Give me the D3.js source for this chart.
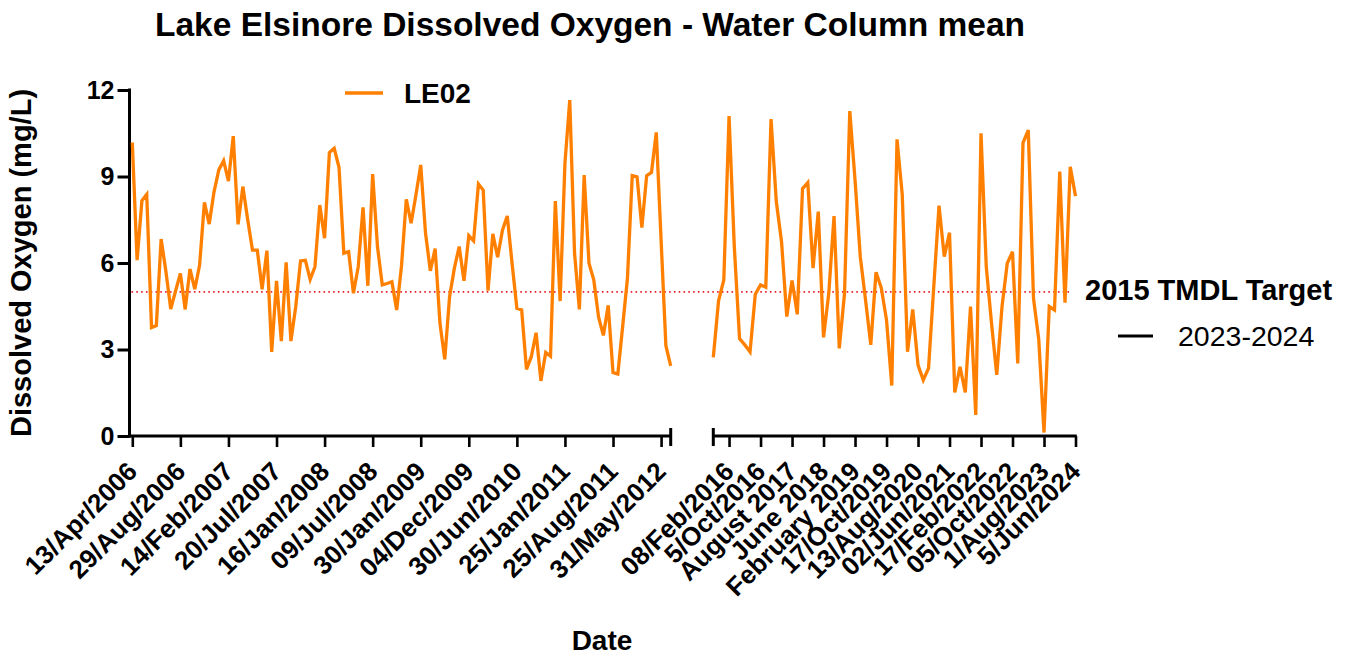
<!DOCTYPE html>
<html>
<head>
<meta charset="utf-8">
<script src="https://cdn.jsdelivr.net/npm/d3@7/dist/d3.min.js"></script>
<style>
  html, body { margin: 0; padding: 0; background: #fff; }
  svg { display: block; font-family: "Liberation Sans", Arial, Helvetica, sans-serif; }
</style>
</head>
<body>
<svg id="chart" width="1350" height="656"></svg>
<script>
// Dissolved oxygen, water-column mean at LE02 (mg/L), sampling order
const period1Values = [
  10.18, 6.10, 8.16, 8.38, 3.76, 3.83, 6.83, 5.70, 4.40, 5.03,
  5.64, 4.39, 5.79, 5.09, 5.93, 8.10, 7.35, 8.47, 9.23, 9.55,
  8.84, 10.40, 7.34, 8.65, 7.51, 6.45, 6.45, 5.09, 6.43, 2.92,
  5.38, 3.29, 6.02, 3.29, 4.49, 6.07, 6.09, 5.43, 5.87, 8.01,
  6.86, 9.83, 9.98, 9.32, 6.34, 6.39, 4.95, 5.87, 7.93, 5.21,
  9.08, 6.57, 5.24, 5.29, 5.35, 4.37, 5.90, 8.21, 7.38, 8.36,
  9.40, 7.03, 5.73, 6.50, 3.91, 2.66, 4.83, 5.82, 6.57, 5.38,
  6.95, 6.77, 8.74, 8.53, 5.04, 7.01, 6.20, 7.14, 7.63, 5.99,
  4.43, 4.37, 2.31, 2.75, 3.58, 1.91, 2.90, 2.77, 8.15, 4.68,
  9.46, 11.65, 6.34, 4.39, 9.05, 5.99, 5.41, 4.12, 3.49, 4.53,
  2.20, 2.15, 3.79, 5.47, 9.03, 8.99, 7.23, 9.03, 9.14, 10.53,
  6.80, 3.13, 2.43
];
const period2Values = [
  2.73, 4.69, 5.41, 11.10, 6.57, 3.38, 3.16, 2.92, 4.92, 5.24,
  5.16, 10.99, 8.13, 6.74, 4.14, 5.39, 4.22, 8.58, 8.79, 5.82,
  7.78, 3.42, 4.95, 7.63, 3.04, 4.95, 11.27, 8.88, 6.22, 4.72,
  3.16, 5.68, 5.14, 4.02, 1.75, 10.29, 8.36, 2.92, 4.39, 2.46,
  1.94, 2.35, 5.18, 7.99, 6.22, 7.05, 1.51, 2.40, 1.51, 4.49,
  0.73, 10.50, 5.87, 3.91, 2.12, 4.49, 5.99, 6.39, 2.52, 10.17,
  10.61, 4.77, 3.35, 0.12, 4.49, 4.37, 9.17, 4.62, 9.34, 8.32
];

// Date labels placed at sample positions along each period
const period1TickIndex = [0, 10, 20, 30, 40, 50, 60, 70, 80, 90, 100, 110];
const period1TickLabels = [
  "13/Apr/2006", "29/Aug/2006", "14/Feb/2007", "20/Jul/2007",
  "16/Jan/2008", "09/Jul/2008", "30/Jan/2009", "04/Dec/2009",
  "30/Jun/2010", "25/Jan/2011", "25/Aug/2011", "31/May/2012"
];
const period2TickIndex = [3, 9, 15, 21, 27, 33, 39, 45, 51, 57, 63, 69];
const period2TickLabels = [
  "08/Feb/2016", "5/Oct/2016", "August 2017", "June 2018",
  "February 2019", "17/Oct/2019", "13/Aug/2020", "02/Jun/2021",
  "17/Feb/2022", "05/Oct/2022", "1/Aug/2023", "5/Jun/2024"
];

const yTicks = [0, 3, 6, 9, 12];
const tmdlTarget = 5;

const seriesName = "LE02";
const chartTitle = "Lake Elsinore Dissolved Oxygen - Water Column mean";
const yTitle = "Dissolved Oxygen (mg/L)";
const xTitle = "Date";
const legendTitle = "2015 TMDL Target";
const legendEntry = "2023-2024";

const ORANGE = "#ff8000";
const svg = d3.select("#chart");

const y = d3.scaleLinear().domain([0, 12]).range([436, 90]);
const x1 = d3.scaleLinear().domain([0, period1Values.length - 1]).range([132.3, 670.7]);
const x2 = d3.scaleLinear().domain([0, period2Values.length - 1]).range([713.3, 1075.5]);

const yAxisX = 129.5;

// Title
svg.append("text")
  .attr("x", 590).attr("y", 36)
  .attr("text-anchor", "middle")
  .attr("font-size", 33.5).attr("font-weight", "bold")
  .text(chartTitle);

// TMDL target reference line
svg.append("line")
  .attr("x1", yAxisX + 2).attr("x2", 1072)
  .attr("y1", y(tmdlTarget)).attr("y2", y(tmdlTarget))
  .attr("stroke", "#e8202a").attr("stroke-width", 1.6)
  .attr("stroke-dasharray", "1.6 3.2");

// Y axis
const yAxis = svg.append("g")
  .attr("transform", `translate(${yAxisX},0)`)
  .call(d3.axisLeft(y).tickValues(yTicks).tickSize(12).tickSizeOuter(0).tickPadding(3));
yAxis.select(".domain").remove();
yAxis.selectAll(".tick line").attr("stroke", "#000").attr("stroke-width", 3);
yAxis.selectAll(".tick text")
  .attr("font-size", 25).attr("font-weight", "bold").attr("fill", "#000")
  .attr("font-family", "Liberation Sans, Arial, sans-serif");
svg.append("line")
  .attr("x1", yAxisX).attr("x2", yAxisX)
  .attr("y1", y(12) - 1.5).attr("y2", y(0) + 1.5)
  .attr("stroke", "#000").attr("stroke-width", 3);

// X axes, one per sampling period
function drawXAxis(scale, tickIdx, tickLabels, lineStart, lineEnd, capStart, capEnd) {
  const g = svg.append("g")
    .attr("transform", `translate(0,${y(0)})`)
    .call(d3.axisBottom(scale)
      .tickValues(tickIdx)
      .tickFormat((d, i) => tickLabels[i])
      .tickSize(11).tickSizeOuter(0));
  g.select(".domain").remove();
  g.selectAll(".tick line").attr("stroke", "#000").attr("stroke-width", 2.6);
  g.selectAll(".tick text")
    .attr("font-size", 26).attr("font-weight", "bold").attr("fill", "#000")
    .attr("font-family", "Liberation Sans, Arial, sans-serif")
    .attr("text-anchor", "end")
    .attr("y", 0).attr("dy", 0)
    .attr("transform", "translate(6,37) rotate(-45)");
  g.append("line")
    .attr("x1", lineStart).attr("x2", lineEnd)
    .attr("y1", 0).attr("y2", 0)
    .attr("stroke", "#000").attr("stroke-width", 3);
  if (capStart) {
    g.append("line").attr("x1", lineStart).attr("x2", lineStart)
      .attr("y1", -8).attr("y2", 10).attr("stroke", "#000").attr("stroke-width", 3);
  }
  if (capEnd) {
    g.append("line").attr("x1", lineEnd).attr("x2", lineEnd)
      .attr("y1", -8).attr("y2", 10).attr("stroke", "#000").attr("stroke-width", 3);
  }
}
drawXAxis(x1, period1TickIndex, period1TickLabels, yAxisX - 1.5, x1.range()[1], false, true);
drawXAxis(x2, period2TickIndex, period2TickLabels, x2.range()[0], x2.range()[1] + 1.3, true, false);

// Series lines
const line1 = d3.line().x((d, i) => x1(i)).y(d => y(d));
const line2 = d3.line().x((d, i) => x2(i)).y(d => y(d));
[[period1Values, line1], [period2Values, line2]].forEach(([vals, gen]) => {
  svg.append("path")
    .datum(vals)
    .attr("d", gen)
    .attr("fill", "none")
    .attr("stroke", ORANGE)
    .attr("stroke-width", 3.3)
    .attr("stroke-linejoin", "miter")
    .attr("stroke-miterlimit", 4);
});

// Axis titles
svg.append("text")
  .attr("transform", "translate(31,263) rotate(-90)")
  .attr("text-anchor", "middle")
  .attr("font-size", 29).attr("font-weight", "bold")
  .text(yTitle);
svg.append("text")
  .attr("x", 602).attr("y", 650)
  .attr("text-anchor", "middle")
  .attr("font-size", 28).attr("font-weight", "bold")
  .text(xTitle);

// Series legend
svg.append("line")
  .attr("x1", 345).attr("x2", 383).attr("y1", 93).attr("y2", 93)
  .attr("stroke", ORANGE).attr("stroke-width", 3.5);
svg.append("text")
  .attr("x", 404).attr("y", 103)
  .attr("font-size", 28).attr("font-weight", "bold")
  .text(seriesName);

// Target legend
svg.append("text")
  .attr("x", 1085).attr("y", 300)
  .attr("font-size", 29).attr("font-weight", "bold")
  .text(legendTitle);
svg.append("line")
  .attr("x1", 1118).attr("x2", 1153).attr("y1", 336).attr("y2", 336)
  .attr("stroke", "#000").attr("stroke-width", 3);
svg.append("text")
  .attr("x", 1178).attr("y", 346)
  .attr("font-size", 28.5)
  .text(legendEntry);
</script>
</body>
</html>
